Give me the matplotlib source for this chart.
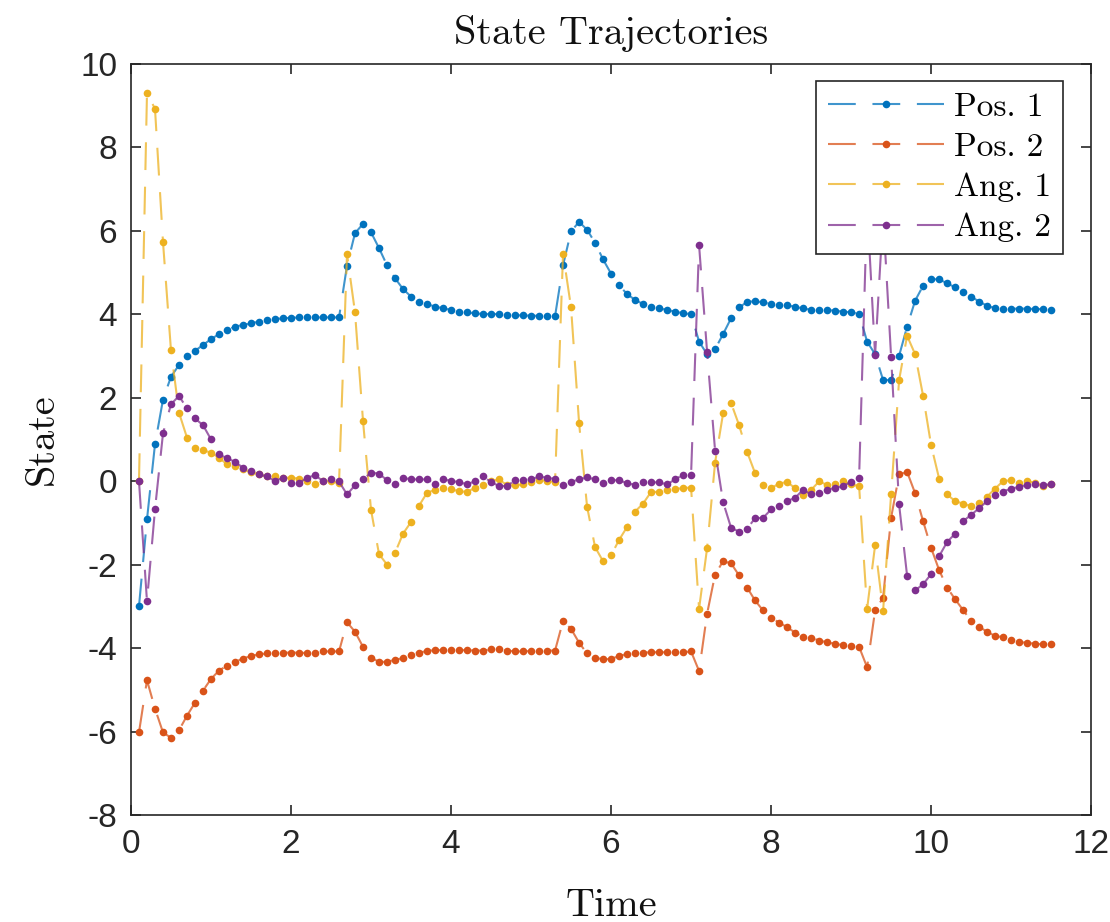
import matplotlib
matplotlib.use("Agg")
import matplotlib.pyplot as plt
from matplotlib.legend_handler import HandlerTuple

plt.rcParams['lines.scale_dashes'] = False

time = [0.1, 0.2, 0.3, 0.4, 0.5, 0.6, 0.7, 0.8, 0.9, 1.0,
        1.1, 1.2, 1.3, 1.4, 1.5, 1.6, 1.7, 1.8, 1.9, 2.0,
        2.1, 2.2, 2.3, 2.4, 2.5, 2.6, 2.7, 2.8, 2.9, 3.0,
        3.1, 3.2, 3.3, 3.4, 3.5, 3.6, 3.7, 3.8, 3.9, 4.0,
        4.1, 4.2, 4.3, 4.4, 4.5, 4.6, 4.7, 4.8, 4.9, 5.0,
        5.1, 5.2, 5.3, 5.4, 5.5, 5.6, 5.7, 5.8, 5.9, 6.0,
        6.1, 6.2, 6.3, 6.4, 6.5, 6.6, 6.7, 6.8, 6.9, 7.0,
        7.1, 7.2, 7.3, 7.4, 7.5, 7.6, 7.7, 7.8, 7.9, 8.0,
        8.1, 8.2, 8.3, 8.4, 8.5, 8.6, 8.7, 8.8, 8.9, 9.0,
        9.1, 9.2, 9.3, 9.4, 9.5, 9.6, 9.7, 9.8, 9.9, 10.0,
        10.1, 10.2, 10.3, 10.4, 10.5, 10.6, 10.7, 10.8, 10.9, 11.0,
        11.1, 11.2, 11.3, 11.4, 11.5]

pos1 = [-3.00, -0.92, 0.88, 1.95, 2.50, 2.78, 2.99, 3.12, 3.26, 3.40,
        3.52, 3.62, 3.70, 3.74, 3.78, 3.82, 3.86, 3.88, 3.90, 3.91,
        3.92, 3.92, 3.92, 3.92, 3.92, 3.92, 5.16, 5.94, 6.16, 5.96,
        5.58, 5.17, 4.86, 4.60, 4.42, 4.30, 4.24, 4.18, 4.14, 4.10,
        4.06, 4.04, 4.02, 4.00, 4.00, 4.00, 3.98, 3.97, 3.97, 3.96,
        3.96, 3.95, 3.95, 5.17, 5.98, 6.21, 6.02, 5.71, 5.31, 4.97,
        4.69, 4.48, 4.34, 4.24, 4.18, 4.14, 4.10, 4.06, 4.02, 4.00,
        3.34, 3.04, 3.16, 3.52, 3.90, 4.16, 4.29, 4.31, 4.28, 4.24,
        4.22, 4.22, 4.17, 4.14, 4.10, 4.10, 4.10, 4.08, 4.06, 4.04,
        4.01, 3.34, 3.04, 2.42, 2.42, 3.00, 3.70, 4.32, 4.68, 4.84,
        4.83, 4.74, 4.64, 4.54, 4.42, 4.30, 4.20, 4.14, 4.13, 4.13,
        4.13, 4.13, 4.12, 4.12, 4.10]

pos2 = [-6.02, -4.77, -5.45, -6.02, -6.15, -5.97, -5.62, -5.31, -5.02, -4.74,
        -4.54, -4.42, -4.33, -4.25, -4.19, -4.15, -4.13, -4.11, -4.11, -4.11,
        -4.11, -4.12, -4.12, -4.08, -4.08, -4.08, -3.38, -3.61, -3.97, -4.23,
        -4.33, -4.33, -4.28, -4.24, -4.16, -4.11, -4.07, -4.05, -4.05, -4.05,
        -4.05, -4.05, -4.06, -4.06, -4.03, -4.03, -4.06, -4.08, -4.08, -4.07,
        -4.07, -4.06, -4.06, -3.35, -3.54, -3.87, -4.13, -4.23, -4.27, -4.26,
        -4.19, -4.14, -4.11, -4.11, -4.10, -4.10, -4.10, -4.10, -4.10, -4.08,
        -4.55, -3.18, -2.24, -1.92, -1.97, -2.26, -2.55, -2.86, -3.10, -3.27,
        -3.39, -3.50, -3.63, -3.73, -3.75, -3.82, -3.86, -3.90, -3.93, -3.96,
        -3.97, -4.46, -3.10, -2.79, -0.88, 0.16, 0.22, -0.29, -0.96, -1.60,
        -2.13, -2.55, -2.83, -3.09, -3.35, -3.49, -3.61, -3.71, -3.74, -3.81,
        -3.86, -3.87, -3.90, -3.91, -3.91]

ang1 = [0.00, 9.29, 8.92, 5.73, 3.13, 1.64, 1.04, 0.80, 0.74, 0.68,
        0.56, 0.40, 0.36, 0.28, 0.22, 0.16, 0.11, 0.11, 0.08, 0.08,
        0.06, 0.00, -0.08, 0.00, 0.00, -0.05, 5.44, 4.04, 1.44, -0.69,
        -1.75, -2.00, -1.72, -1.26, -0.98, -0.59, -0.28, -0.21, -0.16, -0.20,
        -0.24, -0.26, -0.16, -0.10, 0.00, 0.04, -0.10, -0.10, -0.08, -0.02,
        0.03, 0.00, -0.02, 5.45, 4.16, 1.40, -0.61, -1.58, -1.92, -1.78,
        -1.41, -1.10, -0.73, -0.54, -0.26, -0.26, -0.22, -0.20, -0.16, -0.16,
        -3.06, -1.61, 0.44, 1.62, 1.87, 1.34, 0.70, 0.19, -0.09, -0.17,
        -0.06, -0.02, -0.17, -0.34, -0.21, -0.01, -0.09, -0.08, -0.01, -0.08,
        -0.12, -3.06, -1.54, -3.11, -0.32, 2.42, 3.48, 3.04, 2.04, 0.86,
        0.06, -0.32, -0.48, -0.54, -0.60, -0.52, -0.37, -0.18, 0.00, 0.02,
        -0.04, 0.00, -0.04, -0.12, -0.08]

ang2 = [0.00, -2.88, -0.68, 1.14, 1.84, 2.04, 1.74, 1.50, 1.34, 1.00,
        0.64, 0.55, 0.46, 0.32, 0.24, 0.16, 0.11, 0.00, 0.08, -0.05,
        -0.05, 0.08, 0.14, 0.00, 0.04, -0.01, -0.32, -0.10, 0.04, 0.20,
        0.18, 0.02, -0.08, 0.08, 0.04, 0.04, 0.04, -0.06, 0.05, 0.00,
        -0.02, -0.08, 0.00, 0.11, -0.02, -0.12, -0.12, 0.02, 0.02, 0.04,
        0.11, 0.08, 0.05, -0.10, -0.02, 0.04, 0.09, 0.04, -0.04, 0.02,
        0.02, -0.05, -0.09, -0.03, -0.03, -0.03, -0.08, 0.04, 0.15, 0.15,
        5.65, 3.10, 0.73, -0.50, -1.12, -1.21, -1.14, -0.89, -0.88, -0.68,
        -0.60, -0.48, -0.40, -0.21, -0.32, -0.28, -0.21, -0.16, -0.12, -0.02,
        0.08, 6.60, 3.02, 6.40, 2.98, -0.56, -2.27, -2.62, -2.47, -2.23,
        -1.80, -1.46, -1.26, -0.96, -0.81, -0.65, -0.48, -0.33, -0.25, -0.18,
        -0.14, -0.09, -0.08, -0.09, -0.08]

labels = ["Pos. 1", "Pos. 2", "Ang. 1", "Ang. 2"]
colors = ["#0072BD", "#D95319", "#EDB120", "#7E2F8E"]
series = [pos1, pos2, ang1, ang2]

xticks = [0, 2, 4, 6, 8, 10, 12]
yticks = [-8, -6, -4, -2, 0, 2, 4, 6, 8, 10]

fig = plt.figure(figsize=(11.1, 9.22), dpi=100)
ax = fig.add_axes([0.118, 0.116, 0.865, 0.815])

handles = []
for ys, c in zip(series, colors):
    ln, = ax.plot(time, ys, linestyle=(0, (20, 12)), lw=1.5, color=c, alpha=0.75)
    mk, = ax.plot(time, ys, linestyle='none', marker='o', ms=5.5, mew=0, color=c)
    handles.append((ln, mk))

ax.set_xlim(0, 12)
ax.set_ylim(-8, 10)
ax.set_xticks(xticks)
ax.set_yticks(yticks)
ax.set_xticklabels([str(v) for v in xticks], family='Liberation Sans', fontsize=24)
ax.set_yticklabels([str(v) for v in yticks], family='Liberation Sans', fontsize=24)
ax.tick_params(direction='in', length=7, width=1.2, colors='#262626',
               top=True, right=True, pad=10)
for sp in ax.spines.values():
    sp.set_color('#262626')
    sp.set_linewidth(1.2)

ax.set_title("State Trajectories", family='cmr10', fontsize=29, pad=14, color='#111111')
ax.set_xlabel("Time", family='cmr10', fontsize=29, labelpad=20, color='#111111')
ax.set_ylabel("State", family='cmr10', fontsize=29, labelpad=14, color='#111111')

leg = ax.legend(handles, labels, handler_map={tuple: HandlerTuple(ndivide=1)},
                loc='upper right', bbox_to_anchor=(0.971, 0.977), borderaxespad=0,
                prop={'family': 'cmr10', 'size': 24}, handlelength=3.5,
                handletextpad=0.3, labelspacing=0.32, borderpad=0.35,
                framealpha=1, fancybox=False, edgecolor='#262626')
leg.get_frame().set_linewidth(1.2)

fig.savefig("out.png", dpi=100)
